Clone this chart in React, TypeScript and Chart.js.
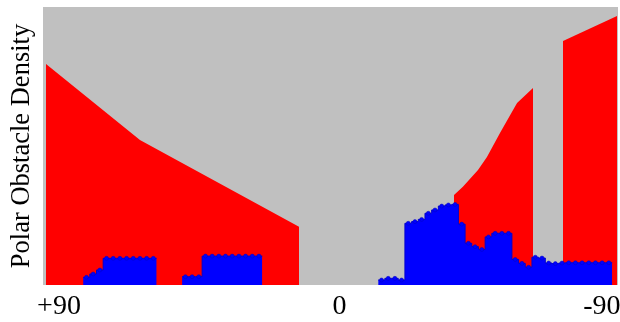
import React, { useEffect, useRef } from "react";
import { Chart, registerables } from "chart.js";

Chart.register(...registerables);

// x axis: sector index (0 = left edge, 86 = right edge); y: density 0..100
const X_MIN = 0;
const X_MAX = 86;
const Y_MAX = 100;

const TICK_POS = [2.39, 44.35, 83.6];
const TICK_LABELS = ["+90", "0", "-90"];

// red: smoothed polar density (null = gap)
const RED_X = [0.45, 14.5, 38.3, 50, 61.47, 62.8, 65.06, 66.4, 68.35, 70.9, 73.3, 75.5, 77.77, 85.85];
const RED_Y = [79.5, 52.2, 20.9, null, 32.4, 35.3, 41.4, 46.0, 54.7, 65.5, 70.9, null, 87.8, 96.8];

// blue: binned polar density, groups of unit-width sectors
const BLUE_A_START = 6.0;
const BLUE_A = [2.77, 3.96, 5.4, 9.6, 9.6, 9.6, 9.6, 9.6, 9.6, 9.6, 9.6];
const BLUE_B_START = 20.8;
const BLUE_B = [3.0, 3.0, 3.0, 10.4, 10.4, 10.4, 10.4, 10.4, 10.4, 10.4, 10.4, 10.4];
const BLUE_C_START = 50.13;
const BLUE_C = [
  1.8, 2.4, 2.4, 1.8, 22.2, 22.8, 23.6, 25.8, 27.0, 28.4, 28.8, 29.0, 21.9, 15.0, 13.8, 12.8,
  17.3, 18.6, 18.6, 18.6, 9.2, 7.8, 6.4, 10.0, 9.7, 7.9, 7.7, 7.9, 8.0, 8.0, 8.0, 8.0, 8.0, 8.0, 8.0,
];

type P = { x: number; y: number | null; e?: boolean };

function groupPoints(start: number, vals: number[]): P[] {
  const pts: P[] = [{ x: start, y: vals[0], e: true }];
  vals.forEach((v, i) => pts.push({ x: start + i + 0.5, y: v }));
  pts.push({ x: start + vals.length, y: vals[vals.length - 1], e: true });
  return pts;
}

function buildBlue(): P[] {
  const a = groupPoints(BLUE_A_START, BLUE_A);
  const b = groupPoints(BLUE_B_START, BLUE_B);
  const c = groupPoints(BLUE_C_START, BLUE_C);
  return [
    ...a,
    { x: (BLUE_A_START + BLUE_A.length + BLUE_B_START) / 2, y: null, e: true },
    ...b,
    { x: (BLUE_B_START + BLUE_B.length + BLUE_C_START) / 2, y: null, e: true },
    ...c,
  ];
}

const plotBg = {
  id: "plotBg",
  beforeDraw(chart: any) {
    const { ctx, chartArea } = chart;
    if (!chartArea) return;
    ctx.save();
    ctx.fillStyle = "#c0c0c0";
    ctx.fillRect(chartArea.left, chartArea.top, chartArea.right - chartArea.left, chartArea.bottom - chartArea.top);
    ctx.restore();
  },
};

const SERIF = "'Liberation Serif', 'Times New Roman', serif";

export default function App() {
  const ref = useRef<HTMLCanvasElement | null>(null);

  useEffect(() => {
    if (!ref.current) return;
    const red: P[] = RED_X.map((x, i) => ({ x, y: RED_Y[i] }));
    const blue = buildBlue();
    const chart = new Chart(ref.current, {
      type: "line",
      data: {
        datasets: [
          {
            label: "blue",
            data: blue as any,
            stepped: "middle",
            fill: "origin",
            backgroundColor: "#0000ff",
            borderColor: "#0000d0",
            borderWidth: 1,
            spanGaps: false,
            pointRadius: (c: any) => (c.raw && c.raw.e ? 0 : 2),
            pointBackgroundColor: "#0000ff",
            pointBorderColor: "#0000c0",
            pointBorderWidth: 0.5,
            pointHoverRadius: 0,
          },
          {
            label: "red",
            data: red as any,
            fill: "origin",
            backgroundColor: "#ff0000",
            borderColor: "#ff0000",
            borderWidth: 0,
            pointRadius: 0,
            tension: 0,
            spanGaps: false,
          },
        ],
      },
      options: {
        animation: false,
        responsive: false,
        devicePixelRatio: 1,
        layout: { padding: { top: 7, right: 2, bottom: 0, left: 0 } },
        plugins: { legend: { display: false }, tooltip: { enabled: false } },
        scales: {
          x: {
            type: "linear",
            min: X_MIN,
            max: X_MAX,
            grid: { display: false, drawTicks: false },
            border: { display: false },
            afterBuildTicks: (s: any) => {
              s.ticks = TICK_POS.map((v) => ({ value: v }));
            },
            afterFit: (s: any) => {
              s.paddingLeft = 0;
              s.paddingRight = 0;
              s.height = 37;
            },
            ticks: {
              autoSkip: false,
              maxRotation: 0,
              padding: 5.2,
              color: "#000",
              font: { family: SERIF, size: 28 },
              callback: (_v: any, i: number) => TICK_LABELS[i],
            },
          },
          y: {
            type: "linear",
            min: 0,
            max: Y_MAX,
            grid: { display: false, drawTicks: false },
            border: { display: false },
            ticks: { display: false },
            title: {
              display: true,
              text: "Polar Obstacle Density",
              color: "#000",
              padding: { top: 6.4, bottom: 4.8 },
              font: { family: SERIF, size: 26.5 },
            },
          },
        },
      },
      plugins: [plotBg],
    });
    return () => chart.destroy();
  }, []);

  return (
    <div style={{ position: "absolute", left: 0, top: 0, width: 620, height: 322 }}>
      <canvas ref={ref} width={620} height={322} style={{ display: "block" }} />
    </div>
  );
}
